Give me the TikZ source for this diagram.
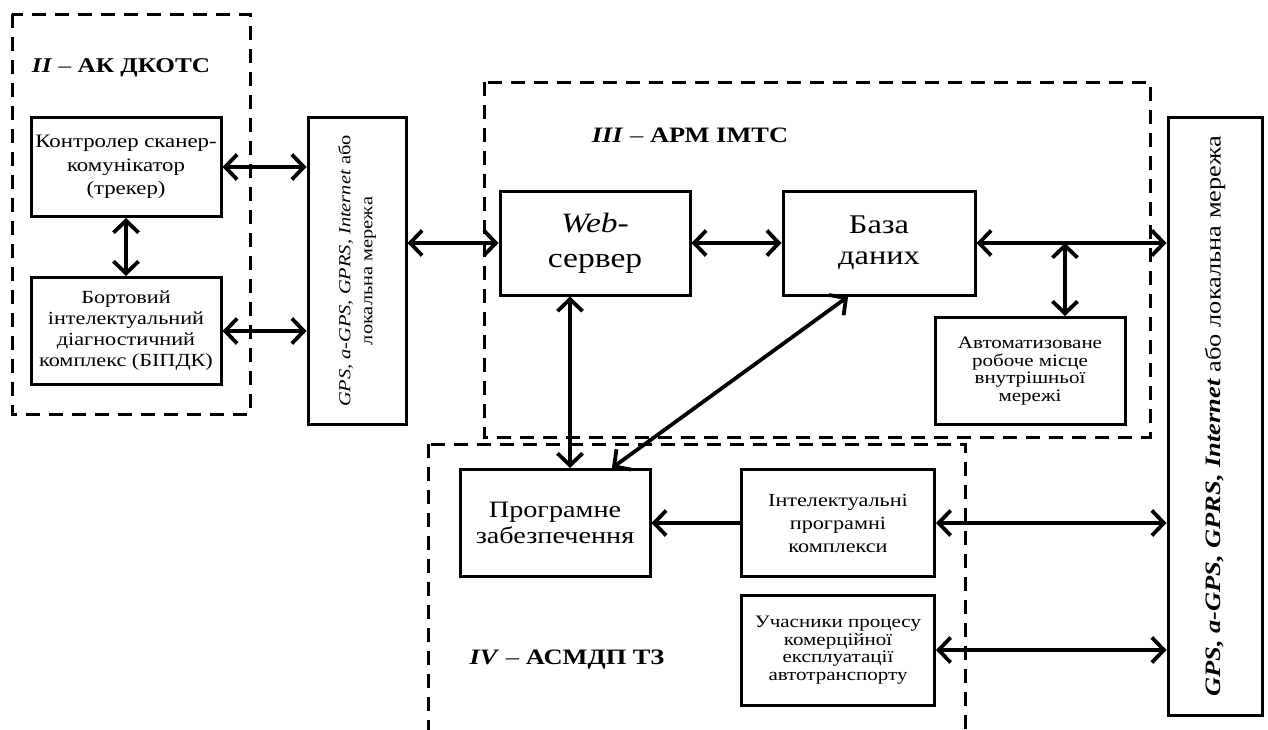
\documentclass[tikz,border=0pt]{standalone}
\usepackage{fontspec}
\setmainfont[FakeStretch=1.2]{Liberation Serif}
\usetikzlibrary{arrows.meta}
\newcommand{\fs}[2]{\fontsize{#1}{#2}\selectfont}

\begin{document}
\begin{tikzpicture}[x=1pt, y=-1pt,
  box/.style={draw, line width=3pt, align=center, inner sep=1pt},
  group/.style={line width=3pt, dash pattern=on 14pt off 9pt},
  tip/.tip={Straight Barb[length=12pt, width=25pt]},
  dbl/.style={line width=3.8pt, tip-tip},
  sgl/.style={line width=3.8pt, -tip}]
\useasboundingbox (0,0) rectangle (1268,729);

% groups
\draw [group] (12,14) rectangle (250,414);
\draw [group] (484,82) rectangle (1150,437);
\draw [group] (428,444) rectangle (965,732);

\node [font=\fs{21}{24}] (t2) at (121,68) {\textbf{\textit{II}} -- \textbf{АК ДКОТС}};
\node [font=\fs{22}{24}] (t3) at (690,135) {\textbf{\textit{III}} -- \textbf{АРМ ІМТС}};
\node [font=\fs{22}{24}] (t4) at (567,660) {\textbf{\textit{IV}} -- \textbf{АСМДП ТЗ}};

% blocks
\node [box, minimum width=190, minimum height=99, font=\fs{19}{23.5}] (kontr) at (126,167)
  {Контролер сканер-\\комунікатор\\(трекер)};
\node [box, minimum width=190, minimum height=107, font=\fs{18.5}{21}] (bort) at (126,331)
  {Бортовий\\інтелектуальний\\діагностичний\\комплекс (БІПДК)};
\node [box, minimum width=98, minimum height=307] (gps1) at (357,271) {};
\node [rotate=90, align=center, font=\fs{17}{22}] (gps1t) at (gps1)
  {\textit{GPS, a-GPS, GPRS, Internet} або\\локальна мережа};

\node [box, minimum width=190, minimum height=104, font=\fs{28}{35}] (web) at (595,243)
  {\textit{Web}-\\сервер};
\node [box, minimum width=192, minimum height=104, font=\fs{27}{31}] (baza) at (879,243)
  {База\\даних};
\node [box, minimum width=190, minimum height=107, font=\fs{17.5}{17.5}] (arm) at (1030,371)
  {Автоматизоване\\робоче місце\\внутрішньої\\мережі};
\node [box, minimum width=94, minimum height=598] (gps2) at (1215,416) {};
\node [rotate=90, font=\fs{22}{24}] (gps2t) at (gps2)
  {\textbf{\textit{GPS, a-GPS, GPRS, Internet}} або локальна мережа};

\node [box, minimum width=190, minimum height=107, font=\fs{23.5}{25.5}] (prog) at (555,523)
  {Програмне\\забезпечення};
\node [box, minimum width=193, minimum height=107, font=\fs{18.5}{23}] (intel) at (838,523)
  {Інтелектуальні\\програмні\\комплекси};
\node [box, minimum width=193, minimum height=110, font=\fs{17.5}{17.5}] (uch) at (838,650)
  {Учасники процесу\\комерційної\\експлуатації\\автотранспорту};

% links
\coordinate (br) at (1065,243);
\coordinate (wp) at (570,0);
\draw [dbl] (kontr.east) -- (kontr.east -| gps1.west);
\draw [dbl] (bort.east) -- (bort.east -| gps1.west);
\draw [dbl] (kontr.south) -- (bort.north);
\draw [dbl] (web.west -| gps1.east) -- (web.west);
\draw [dbl] (web.east) -- (baza.west);
\draw [dbl] (baza.east) -- (baza.east -| gps2.west);
\draw [dbl] (br) -- (arm.north -| br);
\draw [dbl] (web.south -| wp) -- (prog.north -| wp);
\draw [dbl] (baza.240) -- (prog.44);
\draw [sgl] (intel.west) -- (prog.east);
\draw [dbl] (intel.east) -- (intel.east -| gps2.west);
\draw [dbl] (uch.east) -- (uch.east -| gps2.west);

\end{tikzpicture}
\end{document}
